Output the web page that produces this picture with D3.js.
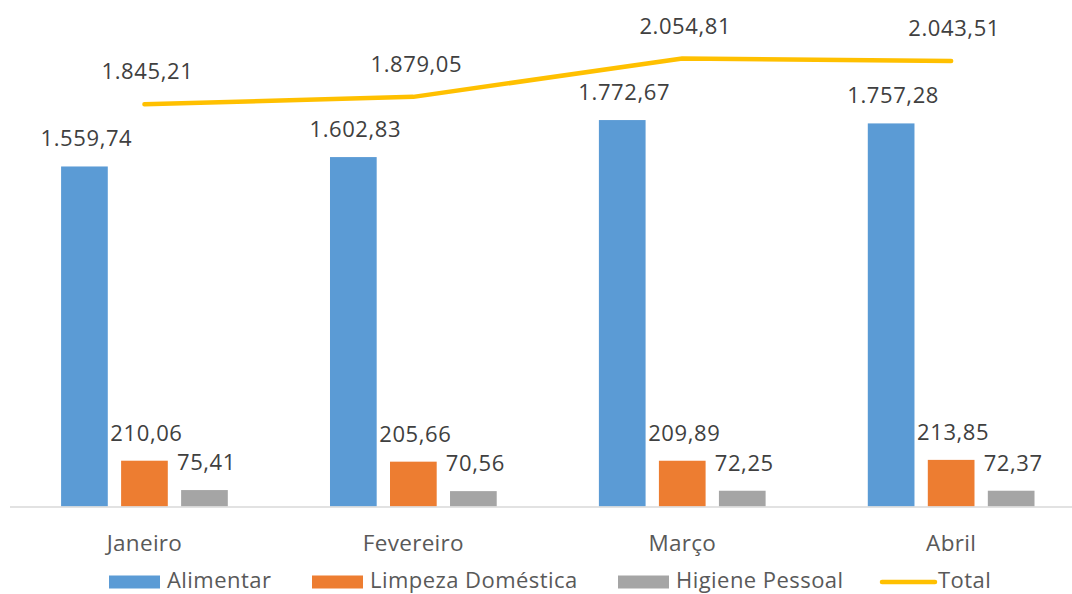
<!DOCTYPE html>
<html>
<head>
<meta charset="utf-8">
<script src="https://cdn.jsdelivr.net/npm/d3@7"></script>
<style>
  html, body { margin: 0; padding: 0; background: #ffffff; }
  svg { display: block; font-family: "Open Sans", sans-serif; }
</style>
</head>
<body>
<svg id="chart" width="1072" height="594"></svg>
<script>
// Gastos mensais por categoria
const months = ["Janeiro", "Fevereiro", "Março", "Abril"];
const seriesNames = ["Alimentar", "Limpeza Doméstica", "Higiene Pessoal"];
const alimentar = [1559.74, 1602.83, 1772.67, 1757.28];
const limpeza = [210.06, 205.66, 209.89, 213.85];
const higiene = [75.41, 70.56, 72.25, 72.37];
const total = [1845.21, 1879.05, 2054.81, 2043.51];
const lineName = "Total";

const colors = {
  "Alimentar": "#5B9BD5",
  "Limpeza Doméstica": "#ED7D31",
  "Higiene Pessoal": "#A5A5A5",
  "Total": "#FFC000"
};

const seriesValues = [alimentar, limpeza, higiene];

const ptBR = d3.formatLocale({ decimal: ",", thousands: ".", grouping: [3], currency: ["R$", ""] });
const fmt = ptBR.format(",.2f");

const svg = d3.select("#chart");

const plot = { left: 10, right: 1085.6, top: 16, bottom: 506.5 };

const x0 = d3.scaleBand().domain(months).range([plot.left, plot.right]).padding(0);
const groupOuter = x0.bandwidth() * 0.19;
const x1 = d3.scaleBand().domain(seriesNames)
  .range([groupOuter, x0.bandwidth() - groupOuter])
  .paddingInner(0.222).paddingOuter(0);
const y = d3.scaleLinear().domain([0, 2250]).range([plot.bottom, plot.top]);

// bars
const groups = svg.append("g").selectAll("g")
  .data(months)
  .join("g")
  .attr("transform", d => `translate(${x0(d)},0)`);

groups.selectAll("rect")
  .data((m, i) => seriesNames.map((s, j) => ({ s, v: seriesValues[j][i] })))
  .join("rect")
  .attr("x", d => x1(d.s))
  .attr("y", d => y(d.v))
  .attr("width", x1.bandwidth())
  .attr("height", d => y(0) - y(d.v))
  .attr("fill", d => colors[d.s]);

// category axis
const xAxis = d3.axisBottom(x0).tickSize(0).tickPadding(0);
const axisG = svg.append("g")
  .attr("transform", `translate(0,${plot.bottom})`)
  .call(xAxis);
axisG.select(".domain").attr("stroke", "#D9D9D9").attr("stroke-width", 1.3)
  .attr("d", `M${plot.left},0.5H1072`);
axisG.selectAll(".tick text")
  .attr("dy", null)
  .attr("y", 44)
  .attr("font-size", 22.5)
  .attr("letter-spacing", 0.3)
  .attr("font-family", "Open Sans, sans-serif")
  .attr("fill", "#595959");

// bar value labels
groups.selectAll("text.val")
  .data((m, i) => seriesNames.map((s, j) => ({ s, v: seriesValues[j][i] })))
  .join("text")
  .attr("class", "val")
  .attr("x", d => x1(d.s) + x1.bandwidth() / 2 + 2)
  .attr("y", d => y(d.v) - 20)
  .attr("text-anchor", "middle")
  .attr("font-size", 22)
  .attr("letter-spacing", 0.6)
  .attr("fill", "#404040")
  .text(d => fmt(d.v));

// total line
const cx = m => x0(m) + x0.bandwidth() / 2;
const line = d3.line().x((d, i) => cx(months[i])).y(d => y(d));
svg.append("path")
  .datum(total)
  .attr("d", line)
  .attr("fill", "none")
  .attr("stroke", colors[lineName])
  .attr("stroke-width", 4.5)
  .attr("stroke-linecap", "round")
  .attr("stroke-linejoin", "round");

svg.append("g").selectAll("text")
  .data(total)
  .join("text")
  .attr("x", (d, i) => cx(months[i]) + 3)
  .attr("y", d => y(d) - 25)
  .attr("text-anchor", "middle")
  .attr("font-size", 22)
  .attr("letter-spacing", 0.6)
  .attr("fill", "#404040")
  .text(d => fmt(d));

// legend
const legendItems = [
  { name: "Alimentar", x: 109, type: "rect" },
  { name: "Limpeza Doméstica", x: 312, type: "rect" },
  { name: "Higiene Pessoal", x: 618, type: "rect" },
  { name: "Total", x: 880, type: "line" }
];
const legend = svg.append("g");
legendItems.forEach(it => {
  const g = legend.append("g");
  if (it.type === "rect") {
    g.append("rect").attr("x", it.x).attr("y", 575.5).attr("width", 51).attr("height", 13)
      .attr("fill", colors[it.name]);
  } else {
    g.append("line").attr("x1", it.x + 2).attr("x2", it.x + 55).attr("y1", 582).attr("y2", 582)
      .attr("stroke", colors[it.name]).attr("stroke-width", 4.5).attr("stroke-linecap", "round");
  }
  g.append("text").attr("x", it.x + 58).attr("y", 587.5)
    .attr("font-size", 22)
    .attr("letter-spacing", 0.45)
    .attr("fill", "#595959")
    .text(it.name);
});
</script>
</body>
</html>
